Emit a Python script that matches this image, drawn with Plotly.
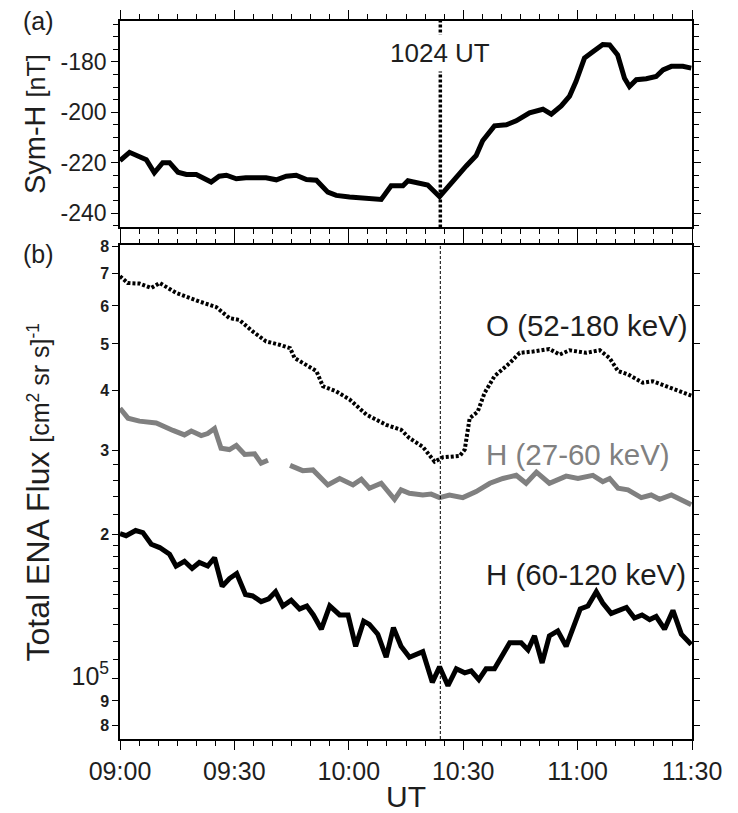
import math
import plotly.graph_objects as go

# ---- data (time in minutes after 09:00 UT) ----
symh_t = [0, 2.5, 6.9, 9, 11.2, 13, 15.2, 17.4, 20, 23.9, 26, 27.9, 30.5, 33, 38.3, 41, 43.6, 46.2,
          48.9, 51.5, 54.5, 56.7, 60.2, 64.6, 68.5, 71.1, 74.2, 75.5, 78.1, 80.7, 83.8, 87.3, 90.8,
          93.4, 95.1, 98.2, 101.3, 103.9, 107.4, 110.9, 113.1, 115.7, 117.9, 119.6, 121.8, 124,
          126.6, 128.4, 130.5, 132.3, 133.6, 135.4, 138, 140.6, 142.4, 144.6, 147.6, 149.8]
symh_v = [-219.2, -215.9, -218.8, -224, -220, -220, -223.8, -224.7, -224.7, -227.7, -225.4, -225,
          -226.4, -226, -226, -226.8, -225.4, -225, -226.7, -227, -231.7, -233, -233.6, -234.3,
          -234.6, -229.2, -229.2, -227.2, -228.2, -228.9, -233.5, -227.2, -221.3, -217.2, -211.3,
          -205.4, -205, -203.4, -200.2, -198.8, -200.8, -197.5, -193.6, -187.7, -178.5, -176,
          -173.1, -173.3, -177.3, -186.5, -189.8, -187.1, -186.7, -185.8, -183.2, -181.8, -181.8, -182.5]

o_t = [0, 2, 5.1, 8.2, 10.4, 14.7, 20.8, 25.2, 28.7, 31.3, 34.8, 38.3, 41.8, 44.6, 45.8, 48.8, 51.5,
       53.2, 56.7, 60.2, 64.6, 69.8, 73.7, 75.9, 79.4, 82.5, 84.7, 89.1, 90.4, 91.7, 93.8, 95.6,
       98.2, 102.2, 104.8, 108.3, 112.6, 115.3, 117.9, 122.3, 125.8, 128.4, 130.6, 133.2, 137.1,
       139.7, 143.2, 146.8, 149.8]
o_v = [6.92e5, 6.70e5, 6.68e5, 6.54e5, 6.70e5, 6.39e5, 6.13e5, 5.97e5, 5.66e5, 5.61e5, 5.31e5,
       5.06e5, 4.98e5, 4.90e5, 4.67e5, 4.53e5, 4.39e5, 4.08e5, 3.98e5, 3.83e5, 3.56e5, 3.39e5,
       3.31e5, 3.18e5, 3.05e5, 2.84e5, 2.90e5, 2.92e5, 3.01e5, 3.50e5, 3.61e5, 3.95e5, 4.28e5,
       4.56e5, 4.79e5, 4.82e5, 4.88e5, 4.75e5, 4.85e5, 4.79e5, 4.85e5, 4.67e5, 4.39e5, 4.32e5,
       4.15e5, 4.18e5, 4.08e5, 3.98e5, 3.90e5]

# None marks the data gap
hl_t = [0, 2.1, 5.1, 9.5, 13.9, 16.9, 18.7, 21.3, 23, 24.8, 26.5, 28.7, 30.5, 32.7, 35.3, 37, 38.8,
        41.7,
        44.6, 47.9, 50.6, 54.5, 57.6, 61.1, 63.3, 65.4, 68.5, 72, 73.7, 75.9, 79.4, 81.6, 83.8,
        86.4, 89.9, 93.4, 97, 100.4, 103.9, 106.5, 109.2, 112.6, 117, 120.1, 124, 126.6, 128.4,
        130.6, 133.2, 136.7, 139.3, 141.5, 144.6, 147.6, 149.8]
hl_v = [3.67e5, 3.50e5, 3.45e5, 3.42e5, 3.30e5, 3.23e5, 3.29e5, 3.22e5, 3.25e5, 3.33e5, 3.03e5,
        3.01e5, 3.07e5, 2.94e5, 2.95e5, 2.82e5, 2.86e5,
        None,
        2.79e5, 2.72e5, 2.73e5, 2.54e5, 2.62e5, 2.54e5, 2.61e5, 2.50e5, 2.56e5, 2.37e5, 2.48e5,
        2.44e5, 2.42e5, 2.43e5, 2.39e5, 2.42e5, 2.39e5, 2.46e5, 2.56e5, 2.62e5, 2.66e5, 2.56e5,
        2.70e5, 2.56e5, 2.65e5, 2.62e5, 2.66e5, 2.58e5, 2.62e5, 2.50e5, 2.48e5, 2.39e5, 2.42e5,
        2.37e5, 2.42e5, 2.35e5, 2.31e5]

hh_t = [0, 1.6, 4.1, 6, 8.2, 10.4, 13, 14.7, 16.9, 18.9, 20.8, 23, 24.8, 26.8, 28.7, 30.6, 32.9,
        34.8, 37, 39, 40.8, 42.7, 44.9, 47.1, 49, 50.7, 52.8, 55, 57.6, 59.8, 61.8, 63.9, 65.4,
        67.6, 69.8, 71.7, 73.7, 75.9, 79.4, 81.9, 83.8, 86, 88.2, 90.4, 92.1, 94.1, 96, 98.2,
        102.2, 105.2, 107, 108.7, 110.7, 112.6, 114.8, 117, 120.7, 122.7, 124.9, 126.6, 128.8,
        132.8, 134.9, 136.9, 138.9, 140.6, 142.8, 145, 147.2, 149.8]
hh_v = [2.01e5, 1.99e5, 2.04e5, 2.02e5, 1.91e5, 1.88e5, 1.82e5, 1.72e5, 1.76e5, 1.70e5, 1.75e5,
        1.72e5, 1.79e5, 1.56e5, 1.62e5, 1.66e5, 1.50e5, 1.49e5, 1.45e5, 1.47e5, 1.52e5, 1.42e5,
        1.46e5, 1.40e5, 1.42e5, 1.36e5, 1.27e5, 1.42e5, 1.36e5, 1.36e5, 1.17e5, 1.32e5, 1.30e5,
        1.24e5, 1.11e5, 1.28e5, 1.17e5, 1.11e5, 1.14e5, 9.84e4, 1.06e5, 9.68e4, 1.05e5, 1.03e5,
        1.04e5, 9.97e4, 1.05e5, 1.05e5, 1.19e5, 1.19e5, 1.15e5, 1.23e5, 1.08e5, 1.23e5, 1.26e5,
        1.17e5, 1.40e5, 1.42e5, 1.52e5, 1.44e5, 1.37e5, 1.41e5, 1.34e5, 1.36e5, 1.33e5, 1.35e5,
        1.27e5, 1.39e5, 1.24e5, 1.18e5]

event_t = 84  # 10:24 UT
event_label = "1024 UT"

x_tickvals = [0, 30, 60, 90, 120, 150]
x_ticktext = ["09:00", "09:30", "10:00", "10:30", "11:00", "11:30"]

symh_tickvals = [-240, -220, -200, -180]
symh_ticktext = ["-240", "-220", "-200", "-180"]

flux_tickvals = [8e4, 9e4, 1e5, 2e5, 3e5, 4e5, 5e5, 6e5, 7e5, 8e5]
flux_ticktext = ["8", "9", "<span style='font-size:25px;font-weight:normal'>10<sup>5</sup></span>",
                 "2", "3", "4", "5", "6", "7", "8"]
flux_minor = [1.1e5, 1.2e5, 1.3e5, 1.4e5, 1.5e5, 1.6e5, 1.7e5, 1.8e5, 1.9e5,
              2.2e5, 2.4e5, 2.6e5, 2.8e5]

series_labels = ["O (52-180 keV)", "H (27-60 keV)", "H (60-120 keV)"]
series_label_y = [5.46e5, 2.94e5, 1.65e5]
panel_letters = ["(a)", "(b)"]

# ---- figure ----
FONT = "Liberation Sans, Arial, Helvetica, sans-serif"
NARROW = "Liberation Sans Narrow, Arial Narrow, Liberation Sans, sans-serif"
TXT = "#1e1e1e"
GRAY = "#808080"

fig = go.Figure()
fig.add_trace(go.Scatter(x=symh_t, y=symh_v, mode="lines", xaxis="x", yaxis="y",
                         line=dict(color="black", width=5), showlegend=False))
fig.add_trace(go.Scatter(x=o_t, y=o_v, mode="lines", xaxis="x2", yaxis="y2",
                         line=dict(color="black", width=4, dash="3px,2px"), showlegend=False))
fig.add_trace(go.Scatter(x=hl_t, y=hl_v, mode="lines", xaxis="x2", yaxis="y2", connectgaps=False,
                         line=dict(color=GRAY, width=5), showlegend=False))
fig.add_trace(go.Scatter(x=hh_t, y=hh_v, mode="lines", xaxis="x2", yaxis="y2",
                         line=dict(color="black", width=5), showlegend=False))

axis_common = dict(showline=True, linecolor="black", linewidth=1.5, mirror="ticks",
                   ticks="outside", tickcolor="black", tickwidth=1.3, showgrid=False,
                   zeroline=False, automargin=False)
minor_x = dict(dtick=5, tick0=0, ticklen=5, ticks="outside", tickcolor="black", tickwidth=1.2)

fig.update_layout(
    width=738, height=813,
    margin=dict(l=120, r=46, t=21, b=74, autoexpand=False),
    plot_bgcolor="white", paper_bgcolor="white",
    font=dict(family=FONT, color=TXT),
    xaxis=dict(domain=[0, 1], range=[0, 150], anchor="y", tickvals=x_tickvals,
               ticktext=x_ticktext, showticklabels=False, ticklen=9, minor=minor_x,
               **axis_common),
    yaxis=dict(domain=[0.7125, 1.0], range=[-245.7, -163.8], anchor="x",
               tickvals=symh_tickvals, ticktext=symh_ticktext, ticklen=7,
               tickfont=dict(size=23, color=TXT),
               minor=dict(dtick=5, tick0=0, ticklen=5, ticks="outside", tickcolor="black"),
               title=dict(text="Sym-H <span style='font-size:25px'>[nT]</span>",
                          font=dict(size=29, color=TXT, family=NARROW), standoff=6),
               **axis_common),
    xaxis2=dict(domain=[0, 1], range=[0, 150], anchor="y2", tickvals=x_tickvals,
                ticktext=x_ticktext, ticklen=9, tickfont=dict(size=25, color=TXT),
                minor=minor_x,
                title=dict(text="UT", font=dict(size=30, color=TXT), standoff=4),
                **axis_common),
    yaxis2=dict(domain=[0, 0.6875], type="log", range=[4.8748, 5.9045], anchor="x2",
                tickvals=flux_tickvals, ticktext=flux_ticktext, ticklen=6,
                tickfont=dict(size=16, color=TXT, weight="bold"),
                minor=dict(tickvals=flux_minor, ticklen=5, ticks="outside", tickcolor="black"),
                title=dict(text="Total ENA Flux <span style='font-size:25px'>[cm<sup>2</sup> sr s]<sup>-1</sup></span>",
                           font=dict(size=32, color=TXT, family=NARROW), standoff=12),
                **axis_common),
)

# event lines
fig.add_shape(type="line", xref="x", yref="y domain", x0=event_t, x1=event_t, y0=0, y1=1,
              line=dict(color="black", width=3.5, dash="3px,2px"))
fig.add_shape(type="line", xref="x2", yref="y2 domain", x0=event_t, x1=event_t, y0=0, y1=1,
              line=dict(color="black", width=1, dash="3px,2px"))
fig.add_annotation(x=event_t, xref="x", y=-176.6, yref="y", text=event_label, showarrow=False,
                   font=dict(size=26, color=TXT), bgcolor="white", borderpad=3)

# series labels (log axis: annotation y in log10 units)
for txt, yy, cc in zip(series_labels, series_label_y, [TXT, GRAY, TXT]):
    fig.add_annotation(x=95.5, xref="x2", y=math.log10(yy), yref="y2", text=txt,
                       showarrow=False, xanchor="left", font=dict(size=29.5, color=cc))

# panel letters
for txt, ypx in zip(panel_letters, [21, 254]):
    fig.add_annotation(x=(38 - 120) / (738 - 120 - 46), xref="paper", xanchor="center",
                       y=(739.3 - ypx) / 718, yref="paper", yanchor="middle", text=txt,
                       showarrow=False, font=dict(size=25, color=TXT))

fig.write_html("out.html")
